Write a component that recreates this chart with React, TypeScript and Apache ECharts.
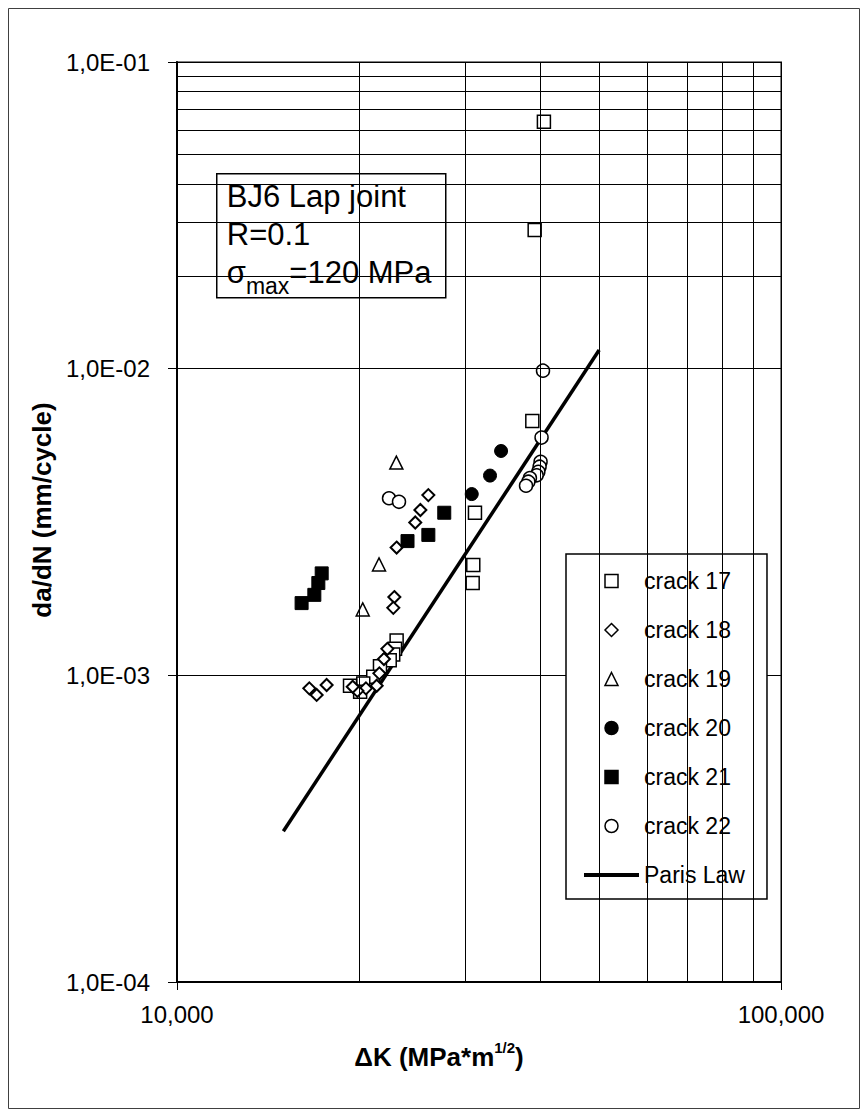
import React, { useEffect, useRef } from 'react';
import * as echarts from 'echarts';

const FONT = 'Arial, "Liberation Sans", Helvetica, sans-serif';

// [ΔK (MPa*m^1/2), da/dN (mm/cycle)]
const crack17: number[][] = [
  [40500, 6.39e-2], [39100, 2.83e-2], [38750, 6.75e-3], [31140, 3.39e-3],
  [30940, 2.29e-3], [30870, 2.0e-3], [23100, 1.3e-3], [22960, 1.22e-3],
  [22800, 1.17e-3], [22500, 1.12e-3], [21680, 1.07e-3], [21130, 9.9e-4],
  [20340, 9.4e-4], [19340, 9.25e-4], [20100, 8.84e-4],
];
const crack18: number[][] = [
  [26070, 3.87e-3], [25290, 3.46e-3], [24800, 3.15e-3], [23100, 2.61e-3],
  [22900, 1.8e-3], [22810, 1.66e-3], [22300, 1.22e-3], [22010, 1.13e-3],
  [21630, 1.015e-3], [21410, 9.25e-4], [20550, 9.07e-4], [19890, 8.9e-4],
  [19540, 9.18e-4], [17690, 9.3e-4], [17030, 8.63e-4], [16560, 9.07e-4],
];
const crack19: number[][] = [[23075, 4.94e-3], [21600, 2.3e-3], [20300, 1.64e-3]];
const crack20: number[][] = [[30760, 3.9e-3], [32980, 4.48e-3], [34400, 5.39e-3]];
const crack21: number[][] = [
  [27700, 3.39e-3], [26070, 2.87e-3], [24080, 2.74e-3], [17360, 2.15e-3],
  [17140, 2.0e-3], [16880, 1.83e-3], [16080, 1.72e-3],
];
const crack22: number[][] = [
  [22440, 3.78e-3], [23310, 3.68e-3], [40360, 9.85e-3], [40140, 5.96e-3],
  [39990, 4.97e-3], [39840, 4.79e-3], [39650, 4.61e-3], [39400, 4.49e-3],
  [38400, 4.4e-3], [38170, 4.28e-3], [37830, 4.15e-3],
];
const parisLaw: number[][] = [[15000, 3.1e-4], [50000, 1.15e-2]];

const seriesNames = ['crack 17', 'crack 18', 'crack 19', 'crack 20', 'crack 21', 'crack 22', 'Paris Law'];
const xTickLabels = ['10,000', '100,000'];
const yTickLabels = ['1,0E-04', '1,0E-03', '1,0E-02', '1,0E-01'];
const xMinorGrid = [20000, 30000, 40000, 50000, 60000, 70000, 80000, 90000];
const yMinorGrid = [
  2e-4, 3e-4, 4e-4, 5e-4, 6e-4, 7e-4, 8e-4, 9e-4,
  2e-3, 3e-3, 4e-3, 5e-3, 6e-3, 7e-3, 8e-3, 9e-3,
  2e-2, 3e-2, 4e-2, 5e-2, 6e-2, 7e-2, 8e-2, 9e-2,
];

const ICON_SQUARE = 'path://M0,0L10,0L10,10L0,10Z';
const ICON_DIAMOND = 'path://M5,0L10,5L5,10L0,5Z';
const ICON_TRIANGLE = 'path://M5,0L10,10L0,10Z';
const ICON_CIRCLE = 'path://M10,5A5,5,0,1,1,0,5A5,5,0,1,1,10,5Z';
const legendIcons = [ICON_SQUARE, ICON_DIAMOND, ICON_TRIANGLE, ICON_CIRCLE, ICON_SQUARE, ICON_CIRCLE];

export default function App() {
  const ref = useRef<HTMLDivElement>(null);
  useEffect(() => {
    const chart = echarts.init(ref.current!, null, { renderer: 'svg' });
    const open = { color: '#ffffff', borderColor: '#000000', borderWidth: 1.5, opacity: 1 };
    const filled = { color: '#000000', borderColor: '#000000', borderWidth: 1, opacity: 1 };
    const mk = (name: string, data: number[][], symbol: string, size: number, style: any) => ({
      name, type: 'scatter', data, symbol, symbolSize: size, itemStyle: style, z: 3,
    });
    const legendData = seriesNames.map((name, i) =>
      i < legendIcons.length
        ? { name, icon: legendIcons[i] }
        : { name, itemStyle: { color: 'rgba(0,0,0,0)', borderWidth: 0, opacity: 0 } },
    );
    chart.setOption({
      animation: false,
      textStyle: { fontFamily: FONT, color: '#000' },
      grid: {
        left: 169, top: 54, width: 604, height: 920,
        show: true, borderColor: '#808080', borderWidth: 2, backgroundColor: 'transparent',
      },
      xAxis: {
        type: 'log', logBase: 10, min: 10000, max: 100000,
        axisLine: { show: true, lineStyle: { color: '#000', width: 2 } },
        axisTick: { show: true, length: 8, lineStyle: { color: '#000', width: 1 } },
        splitLine: { show: true, lineStyle: { color: '#000', width: 1 } },
        axisLabel: {
          margin: 20, fontSize: 24, color: '#000', fontFamily: FONT,
          formatter: (v: number) => xTickLabels[Math.round(Math.log10(v)) - 4] ?? '',
        },
        name: '{a|ΔK (MPa*m}{s|1/2}{a|)}',
        nameLocation: 'middle', nameGap: 58,
        nameTextStyle: {
          padding: [0, 80, 0, 0],
          rich: {
            a: { fontSize: 26, fontWeight: 'bold', fontFamily: FONT, color: '#000', lineHeight: 30, verticalAlign: 'bottom' },
            s: { fontSize: 15, fontWeight: 'bold', fontFamily: FONT, color: '#000', lineHeight: 15, verticalAlign: 'top' },
          },
        },
      },
      yAxis: {
        type: 'log', logBase: 10, min: 0.0001, max: 0.1,
        axisLine: { show: true, lineStyle: { color: '#000', width: 2 } },
        axisTick: { show: true, length: 9, lineStyle: { color: '#000', width: 1 } },
        splitLine: { show: true, lineStyle: { color: '#000', width: 1 } },
        axisLabel: {
          margin: 27, fontSize: 24, color: '#000', fontFamily: FONT,
          formatter: (v: number) => yTickLabels[Math.round(Math.log10(v)) + 4] ?? '',
        },
        name: 'da/dN (mm/cycle)',
        nameLocation: 'middle', nameGap: 118,
        nameTextStyle: { fontSize: 26, fontWeight: 'bold', fontFamily: FONT, color: '#000', padding: [0, 0, 0, 24] },
      },
      legend: {
        orient: 'vertical', left: 558, top: 546,
        backgroundColor: '#fff', borderColor: '#000', borderWidth: 1.5,
        padding: [15, 22, 12, 16],
        itemWidth: 55, itemHeight: 13, itemGap: 25,
        symbolKeepAspect: true,
        textStyle: { fontSize: 23, lineHeight: 24, color: '#000', fontFamily: FONT },
        lineStyle: { width: 4, color: '#000' },
        itemStyle: { borderWidth: 1.5 },
        data: legendData,
        selectedMode: false,
      },
      graphic: [
        {
          type: 'rect', shape: { x: 0.5, y: 0.5, width: 851, height: 1100 },
          style: { fill: 'none', stroke: '#404040', lineWidth: 1 }, silent: true, z: 100,
        },
        {
          type: 'group', left: 208, top: 165, z: 100,
          children: [
            {
              type: 'rect', shape: { x: 0, y: 0, width: 229, height: 124 },
              style: { fill: '#fff', stroke: '#000', lineWidth: 1.5 },
            },
            {
              type: 'text', x: 10, y: 23,
              style: { text: 'BJ6 Lap joint', font: `31px ${FONT}`, fill: '#000', verticalAlign: 'middle' },
            },
            {
              type: 'text', x: 10, y: 61,
              style: { text: 'R=0.1', font: `31px ${FONT}`, fill: '#000', verticalAlign: 'middle' },
            },
            {
              type: 'text', x: 10, y: 83,
              style: {
                text: '{n|σ}{s|max}{n|=120 MPa}',
                verticalAlign: 'top',
                rich: {
                  n: { fontSize: 31, fontFamily: FONT, fill: '#000', lineHeight: 32, verticalAlign: 'top' },
                  s: { fontSize: 23, fontFamily: FONT, fill: '#000', lineHeight: 58, verticalAlign: 'middle' },
                },
              },
            },
          ],
        },
      ],
      series: [
        {
          name: 'Paris Law', type: 'line', data: parisLaw, symbol: 'none', z: 2,
          itemStyle: { color: '#000' },
          lineStyle: { color: '#000', width: 3.5 },
          markLine: {
            silent: true, symbol: ['none', 'none'], label: { show: false },
            lineStyle: { color: '#000', width: 1, type: 'solid' },
            emphasis: { disabled: true },
            data: [
              ...xMinorGrid.map((v) => ({ xAxis: v })),
              ...yMinorGrid.map((v) => ({ yAxis: v })),
            ],
          },
        },
        mk('crack 17', crack17, 'rect', 13, open),
        mk('crack 18', crack18, 'diamond', 12, { ...open, borderWidth: 2 }),
        mk('crack 19', crack19, 'triangle', 13, open),
        mk('crack 20', crack20, 'circle', 13, filled),
        mk('crack 21', crack21, 'rect', 13, filled),
        mk('crack 22', crack22, 'circle', 13, open),
      ],
    });
    return () => chart.dispose();
  }, []);
  return <div ref={ref} style={{ width: 852, height: 1101 }} />;
}
